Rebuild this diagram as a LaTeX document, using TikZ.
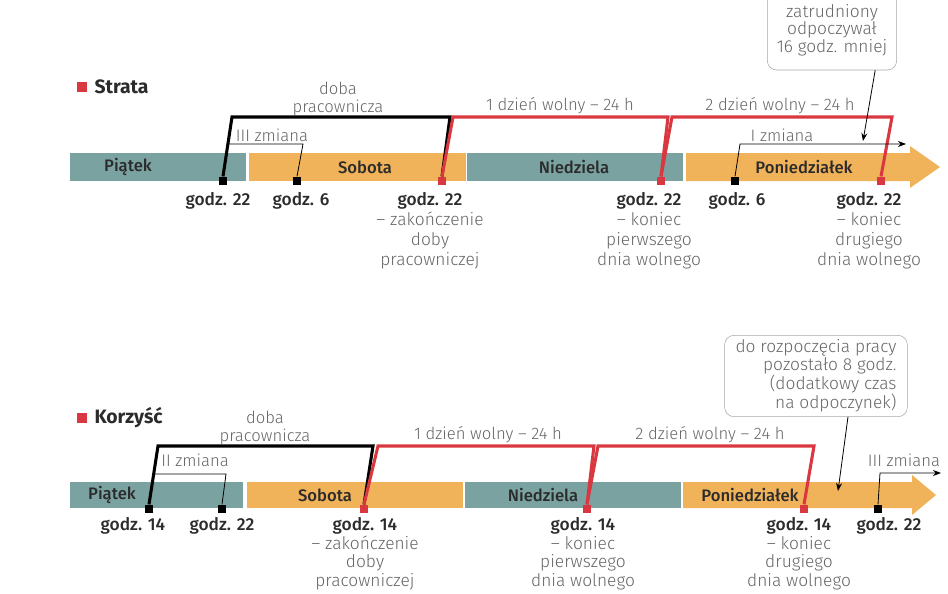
\documentclass[tikz,border=0pt]{standalone}
\usepackage{fontspec}
\setmainfont{Fira Sans}
\newfontfamily\medfont{Fira Sans Medium}
\newfontfamily\lightfont{Fira Sans Light}
\usetikzlibrary{arrows.meta}
\usetikzlibrary{positioning}
\definecolor{dayteal}{HTML}{7AA2A1}
\definecolor{dayorange}{HTML}{F1B35A}
\definecolor{lossred}{HTML}{D93841}
\definecolor{txtdark}{HTML}{2B2B2B}
\definecolor{txtgray}{HTML}{666666}

\begin{document}
\begin{tikzpicture}[x=0.75pt, y=-0.75pt,
  daylbl/.style={font=\medfont\fontsize{12.5}{14}\selectfont, text=txtdark},
  hourlbl/.style={font=\lightfont\fontsize{13}{15}\selectfont, text=txtgray, align=center, anchor=north, inner sep=0pt},
  marker/.style={minimum size=6.5pt, inner sep=0pt, fill=black},
  redmarker/.style={marker, fill=lossred},
  workbracket/.style={line width=2.3pt, black},
  freebracket/.style={line width=2.3pt, lossred},
  shiftline/.style={line width=0.6pt, black},
  shiftlbl/.style={font=\lightfont\fontsize{12.5}{14}\selectfont, text=txtgray, inner sep=1pt},
  bracketlbl/.style={font=\lightfont\fontsize{12.5}{13.5}\selectfont, text=txtgray, align=center, inner sep=0pt},
  callout/.style={draw=gray!70, rounded corners=7pt, font=\lightfont\fontsize{13}{13.2}\selectfont, text=txtgray, inner sep=3pt},
  title/.style={font=\fontsize{14.5}{16}\selectfont\bfseries, text=txtdark, inner sep=0pt}
]
\clip (0,0) rectangle (948,593);
\newcommand{\hr}[1]{\textcolor{txtdark}{\medfont #1}}

% ---------- Strata ----------
\node[fill=lossred, minimum size=8pt, inner sep=0pt] (sqloss) at (82,87) {};
\node[title, right=5pt of sqloss] (strata) {Strata};

\fill[dayteal] (70,153) rectangle (246,181);
\fill[dayorange] (249,153) rectangle (466,181);
\fill[dayteal] (467,153) rectangle (683,181);
\fill[dayorange] (686,153) -- (910,153) -- (910,146) -- (940,167) -- (910,188) -- (910,181) -- (686,181) -- cycle;
\node[daylbl] (pt1) at (128,167) {Piątek};
\node[daylbl] (sb1) at (365,167) {Sobota};
\node[daylbl] (nd1) at (574,167) {Niedziela};
\node[daylbl] (pn1) at (804,167) {Poniedziałek};

\node[marker] (m1) at (223,181) {};
\node[marker] (m2) at (297,181) {};
\node[redmarker] (m3) at (442,181) {};
\node[redmarker] (m4) at (661,181) {};
\node[marker] (m5) at (735,181) {};
\node[redmarker] (m6) at (881,181) {};

\coordinate (w1) at (232,117);
\coordinate (w2) at (450,117);
\draw[workbracket] (m1.north) -- (w1) -- (w2) -- (m3.north);
\coordinate (f1) at (453,117);
\coordinate (f2) at (668,117);
\draw[freebracket] (m3.north) -- (f1) -- (f2) -- (m4.north);
\coordinate (f3) at (672,117);
\coordinate (f4) at (892,117);
\draw[freebracket] (m4.north) -- (f3) -- (f4) -- (m6.north);

\coordinate (s1) at (228,144);
\coordinate (s2) at (303,144);
\draw[shiftline] (s1) -- (s2) -- (m2.north);
\coordinate (s3) at (740,144);
\coordinate (s4) at (906,144);
\draw[shiftline, -{Stealth[length=6pt]}] (m5.north) -- (s3) -- (s4);

\node[bracketlbl] (doba1) at (338,99) {doba\\pracownicza};
\node[bracketlbl] (free1) at (560,106) {1 dzień wolny – 24 h};
\node[bracketlbl] (free2) at (780,106) {2 dzień wolny – 24 h};
\node[shiftlbl] (zm3) at (272,135) {III zmiana};
\node[shiftlbl] (zm1) at (782,135) {I zmiana};

\node[hourlbl] (h1) at (218,192) {\hr{godz. 22}};
\node[hourlbl] (h2) at (301,192) {\hr{godz. 6}};
\node[hourlbl] (h3) at (430,192) {\hr{godz. 22}\\– zakończenie\\doby\\pracowniczej};
\node[hourlbl] (h4) at (649,192) {\hr{godz. 22}\\– koniec\\pierwszego\\dnia wolnego};
\node[hourlbl] (h5) at (737,192) {\hr{godz. 6}};
\node[hourlbl] (h6) at (869,192) {\hr{godz. 22}\\– koniec\\drugiego\\dnia wolnego};

\node[callout, align=center, minimum width=97pt, minimum height=60pt] (note1) at (832,30) {zatrudniony\\odpoczywał\\16 godz. mniej};
\coordinate (n1) at (863,141);
\draw[shiftline, -{Stealth[length=6pt]}] (note1.-43) -- (n1);

% ---------- Korzysc ----------
\node[fill=lossred, minimum size=8pt, inner sep=0pt] (sqgain) at (82,418) {};
\node[title, right=5pt of sqgain] (korzysc) {Korzyść};

\fill[dayteal] (70,482) rectangle (243,508);
\fill[dayorange] (247,482) rectangle (463,508);
\fill[dayteal] (465,482) rectangle (681,508);
\fill[dayorange] (683,482) -- (912,482) -- (912,475) -- (936,495) -- (912,515) -- (912,508) -- (683,508) -- cycle;
\node[daylbl] (pt2) at (112,495) {Piątek};
\node[daylbl] (sb2) at (325,495) {Sobota};
\node[daylbl] (nd2) at (543,495) {Niedziela};
\node[daylbl] (pn2) at (750,495) {Poniedziałek};

\node[marker] (k1) at (149,509) {};
\node[marker] (k2) at (222,509) {};
\node[redmarker] (k3) at (364,509) {};
\node[redmarker] (k4) at (587,509) {};
\node[redmarker] (k5) at (804,509) {};
\node[marker] (k6) at (878,509) {};

\coordinate (v1) at (158,446);
\coordinate (v2) at (373,446);
\draw[workbracket] (k1.north) -- (v1) -- (v2) -- (k3.north);
\coordinate (g1) at (378,446);
\coordinate (g2) at (594,446);
\draw[freebracket] (k3.north) -- (g1) -- (g2) -- (k4.north);
\coordinate (g3) at (598,446);
\coordinate (g4) at (814,446);
\draw[freebracket] (k4.north) -- (g3) -- (g4) -- (k5.north);

\coordinate (t1) at (154,474);
\coordinate (t2) at (226,474);
\draw[shiftline] (t1) -- (t2) -- (k2.north);
\coordinate (t3) at (880,473);
\coordinate (t4) at (941,473);
\draw[shiftline, -{Stealth[length=6pt]}] (k6.north) -- (t3) -- (t4);

\node[bracketlbl] (doba2) at (265,428) {doba\\pracownicza};
\node[bracketlbl] (free3) at (488,435) {1 dzień wolny – 24 h};
\node[bracketlbl] (free4) at (710,435) {2 dzień wolny – 24 h};
\node[shiftlbl] (zm2) at (195,460) {II zmiana};
\node[shiftlbl] (zm3b) at (904,460) {III zmiana};

% nizsze podpisy troche ciasniej, zeby zmiescily sie na dole
\tikzset{hourlbl/.append style={font=\lightfont\fontsize{13}{14}\selectfont}}
\node[hourlbl] (p1) at (133,517) {\hr{godz. 14}};
\node[hourlbl] (p2) at (222,517) {\hr{godz. 22}};
\node[hourlbl] (p3) at (365,517) {\hr{godz. 14}\\– zakończenie\\doby\\pracowniczej};
\node[hourlbl] (p4) at (583,517) {\hr{godz. 14}\\– koniec\\pierwszego\\dnia wolnego};
\node[hourlbl] (p5) at (799,517) {\hr{godz. 14}\\– koniec\\drugiego\\dnia wolnego};
\node[hourlbl] (p6) at (889,517) {\hr{godz. 22}};

\node[callout, align=right, minimum width=137pt, minimum height=61pt] (note2) at (816,376) {do rozpoczęcia pracy\\pozostało 8 godz.\\(dodatkowy czas\\na odpoczynek)};
\coordinate (n2) at (838,491);
\draw[shiftline, -{Stealth[length=6pt]}] (note2.-52) -- (n2);
\end{tikzpicture}
\end{document}
